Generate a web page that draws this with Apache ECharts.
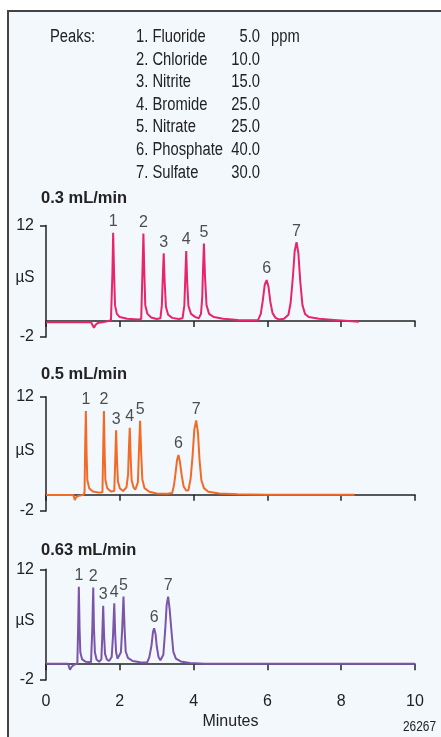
<!DOCTYPE html>
<html>
<head>
<meta charset="utf-8">
<script src="https://cdn.jsdelivr.net/npm/echarts@6/dist/echarts.min.js"></script>
<style>
  html, body { margin: 0; padding: 0; background: #fff; }
  #chart { width: 441px; height: 737px; }
</style>
</head>
<body>
<div id="chart"></div>
<script>
// peak table
const peakNames = ['1. Fluoride', '2. Chloride', '3. Nitrite', '4. Bromide', '5. Nitrate', '6. Phosphate', '7. Sulfate'];
const peakConc = ['5.0', '10.0', '15.0', '25.0', '25.0', '40.0', '30.0'];
const peakLabels = ['1', '2', '3', '4', '5', '6', '7'];
const flowRates = ['0.3 mL/min', '0.5 mL/min', '0.63 mL/min'];
const lineColors = ['#e8246a', '#f26a26', '#7b55a8'];

// apex positions (minutes, µS)
const apexTime03 = [1.82, 2.64, 3.19, 3.80, 4.28, 5.98, 6.79];
const apexHeight03 = [11.1, 11.0, 8.5, 8.8, 9.75, 5.15, 9.9];
const apexTime05 = [1.08, 1.57, 1.90, 2.27, 2.55, 3.59, 4.07];
const apexHeight05 = [10.25, 10.25, 7.9, 8.2, 9.05, 4.85, 9.1];
const apexTime063 = [0.89, 1.28, 1.55, 1.85, 2.10, 2.93, 3.31];
const apexHeight063 = [9.8, 9.7, 7.4, 7.7, 8.55, 4.55, 8.55];

// traces [minutes, µS]
const trace03 = [
  [0, -0.15], [1.22, -0.15], [1.27, -0.4], [1.30, -0.85], [1.34, -0.5], [1.40, -0.25], [1.60, -0.1], [1.76, 0.1],
  [1.785, 0.3], [1.80, 6.0], [1.82, 11.1], [1.845, 6.0], [1.87, 2.0], [1.92, 0.9], [2.0, 0.5], [2.2, 0.3], [2.5, 0.2], [2.58, 0.25],
  [2.61, 5.5], [2.64, 11.0], [2.665, 6.0], [2.69, 2.0], [2.75, 0.9], [2.85, 0.45], [3.0, 0.25], [3.10, 0.35],
  [3.14, 2.0], [3.165, 5.5], [3.19, 8.5], [3.215, 5.0], [3.25, 1.8], [3.31, 0.8], [3.42, 0.4], [3.6, 0.25], [3.70, 0.35],
  [3.75, 2.0], [3.775, 5.5], [3.80, 8.8], [3.825, 5.0], [3.86, 1.9], [3.93, 0.9], [4.05, 0.5], [4.14, 0.35], [4.20, 0.9],
  [4.235, 3.0], [4.255, 6.5], [4.28, 9.75], [4.31, 5.5], [4.35, 2.0], [4.42, 0.9], [4.55, 0.5], [4.8, 0.3], [5.2, 0.15], [5.6, 0.1],
  [5.75, 0.15], [5.82, 0.9], [5.87, 2.4], [5.93, 4.6], [5.98, 5.15], [6.03, 4.3], [6.08, 2.4], [6.14, 1.0], [6.22, 0.4], [6.32, 0.2], [6.45, 0.3],
  [6.57, 0.8], [6.63, 2.3], [6.69, 5.5], [6.74, 8.8], [6.79, 9.9], [6.84, 8.5], [6.89, 5.0], [6.95, 2.0], [7.02, 0.9], [7.12, 0.5], [7.4, 0.3], [7.8, 0.15], [8.2, 0.0], [8.48, -0.1]
];
const trace05 = [
  [0, -0.05], [0.74, -0.05], [0.76, -0.3], [0.78, -0.65], [0.82, -0.3], [0.88, -0.15], [1.02, 0.0],
  [1.045, 0.3], [1.06, 5.5], [1.08, 10.25], [1.10, 5.0], [1.12, 1.8], [1.17, 0.8], [1.27, 0.4], [1.45, 0.25], [1.53, 0.3],
  [1.55, 5.5], [1.57, 10.25], [1.59, 5.0], [1.61, 1.8], [1.66, 0.8], [1.76, 0.4], [1.85, 0.45],
  [1.875, 4.0], [1.90, 7.9], [1.925, 4.0], [1.95, 1.6], [2.0, 0.8], [2.09, 0.45], [2.18, 0.9],
  [2.225, 2.5], [2.245, 5.5], [2.27, 8.2], [2.295, 4.5], [2.32, 1.8], [2.37, 0.9], [2.42, 0.6],
  [2.49, 1.5], [2.52, 5.5], [2.55, 9.05], [2.58, 5.0], [2.61, 1.9], [2.67, 0.8], [2.8, 0.35], [3.0, 0.15], [3.3, 0.1], [3.42, 0.2],
  [3.47, 1.2], [3.51, 2.6], [3.55, 4.2], [3.59, 4.85], [3.63, 4.0], [3.68, 2.3], [3.73, 1.0], [3.80, 0.5], [3.86, 0.55],
  [3.92, 2.0], [3.97, 4.6], [4.02, 8.0], [4.07, 9.1], [4.12, 7.5], [4.16, 4.3], [4.21, 1.8], [4.28, 0.8], [4.4, 0.35], [4.7, 0.15], [5.2, 0.05], [6.0, 0.0], [8.36, 0.0]
];
const trace063 = [
  [0, 0.05], [0.60, 0.05], [0.62, -0.3], [0.65, -0.7], [0.69, -0.35], [0.75, -0.1], [0.85, 0.1],
  [0.87, 4.5], [0.89, 9.8], [0.91, 4.5], [0.93, 1.5], [0.98, 0.6], [1.08, 0.3], [1.22, 0.25],
  [1.255, 4.5], [1.28, 9.7], [1.30, 4.5], [1.325, 1.5], [1.37, 0.6], [1.44, 0.3], [1.50, 0.6],
  [1.525, 3.5], [1.55, 7.4], [1.575, 3.5], [1.60, 1.3], [1.65, 0.6], [1.71, 0.4], [1.78, 0.9],
  [1.815, 3.5], [1.85, 7.7], [1.875, 3.8], [1.90, 1.5], [1.94, 0.7], [1.98, 0.6], [2.03, 1.5],
  [2.065, 4.5], [2.10, 8.55], [2.13, 4.5], [2.16, 1.6], [2.22, 0.8], [2.35, 0.4], [2.55, 0.25], [2.74, 0.2],
  [2.80, 0.9], [2.86, 2.4], [2.90, 4.1], [2.93, 4.55], [2.97, 3.8], [3.00, 2.3], [3.05, 0.9], [3.10, 0.5],
  [3.18, 1.2], [3.23, 4.3], [3.27, 7.5], [3.31, 8.55], [3.35, 7.0], [3.40, 4.2], [3.45, 1.6], [3.52, 0.7], [3.65, 0.35], [3.9, 0.15], [4.3, 0.05], [6, 0.05], [10, 0.05]
];

const xTicks = { min: 0, max: 10, interval: 2 };
const yTicks = { min: -2, max: 12, interval: 14 };

const FONT = "'Liberation Sans', Arial, sans-serif";
const INK = '#222';
const NARROW = 0.82; // squeeze plain Liberation Sans to look like a condensed face

const traces = [trace03, trace05, trace063];
const apexTimes = [apexTime03, apexTime05, apexTime063];
const apexHeights = [apexHeight03, apexHeight05, apexHeight063];

// grid placement in px
const grids = [
  { left: 46, width: 369, top: 225.5, height: 111.5 },
  { left: 46, width: 369, top: 396.7, height: 114.3 },
  { left: 46, width: 369, top: 569.3, height: 110.7 }
].map(g => Object.assign(g, { containLabel: false, outerBoundsMode: 'none' }));
const titleY = [198, 374, 550];

const chart = echarts.init(document.getElementById('chart'), null, { renderer: 'canvas' });

const xAxes = grids.map((g, i) => ({
  type: 'value', gridIndex: i,
  min: xTicks.min, max: xTicks.max, interval: xTicks.interval,
  axisLine: { lineStyle: { color: INK, width: 1.5 } },
  axisTick: { show: true, length: 6, lineStyle: { color: INK, width: 1.5 } },
  axisLabel: { show: i === 2, color: INK, fontSize: 16, fontFamily: FONT, margin: 14 },
  splitLine: { show: false },
  name: i === 2 ? 'Minutes' : '',
  nameLocation: 'middle', nameGap: 34,
  nameTextStyle: { color: INK, fontSize: 16, fontFamily: FONT }
}));

const yAxes = grids.map((g, i) => ({
  type: 'value', gridIndex: i,
  min: yTicks.min, max: yTicks.max, interval: yTicks.interval,
  axisLine: { show: true, lineStyle: { color: INK, width: 1.5 } },
  axisTick: { show: true, length: 6, lineStyle: { color: INK, width: 1.5 } },
  axisLabel: { color: INK, fontSize: 16, fontFamily: FONT, margin: 12 },
  splitLine: { show: false }
}));

const series = [];
traces.forEach((tr, i) => {
  series.push({
    type: 'line', xAxisIndex: i, yAxisIndex: i,
    data: tr, showSymbol: false, smooth: false,
    lineStyle: { color: lineColors[i], width: 2 },
    silent: true, animation: false
  });
  series.push({
    type: 'scatter', xAxisIndex: i, yAxisIndex: i,
    data: apexTimes[i].map((t, k) => [t, apexHeights[i][k]]),
    symbolSize: 0,
    label: {
      show: true, position: 'top', distance: 3,
      formatter: p => peakLabels[p.dataIndex],
      color: INK, fontSize: 16, fontFamily: FONT
    },
    silent: true, animation: false
  });
});

function txt(text, x, y, size, opts) {
  opts = opts || {};
  return {
    type: 'text', x: x, y: y, scaleX: opts.scaleX || NARROW,
    style: {
      text: text, font: (opts.bold ? 'bold ' : '') + size + 'px ' + FONT, fill: INK,
      textAlign: opts.align || 'left', textVerticalAlign: 'middle'
    }
  };
}

const graphics = [
  { type: 'rect', z: -10, shape: { x: 8, y: 11, width: 460, height: 760 },
    style: { fill: '#f2f8fc', stroke: '#444', lineWidth: 2 } },
  txt('Peaks:', 50, 37, 18),
  txt('ppm', 271, 37, 18),
  txt('26267', 436, 727, 14.5, { align: 'right' })
];
peakNames.forEach((n, k) => {
  const y = 37 + k * 22.6;
  graphics.push(txt(n, 136, y, 18));
  graphics.push(txt(peakConc[k], 260, y, 18, { align: 'right' }));
});
flowRates.forEach((f, i) => {
  graphics.push(txt(f, 41, titleY[i], 17, { bold: true, scaleX: 0.97 }));
  const g = grids[i];
  graphics.push(txt('µS', 25, g.top + g.height / 2 - 4, 17, { align: 'center', scaleX: 0.9 }));
});

chart.setOption({
  animation: false,
  backgroundColor: '#fff',
  grid: grids,
  xAxis: xAxes,
  yAxis: yAxes,
  series: series,
  graphic: graphics
});
</script>
</body>
</html>
